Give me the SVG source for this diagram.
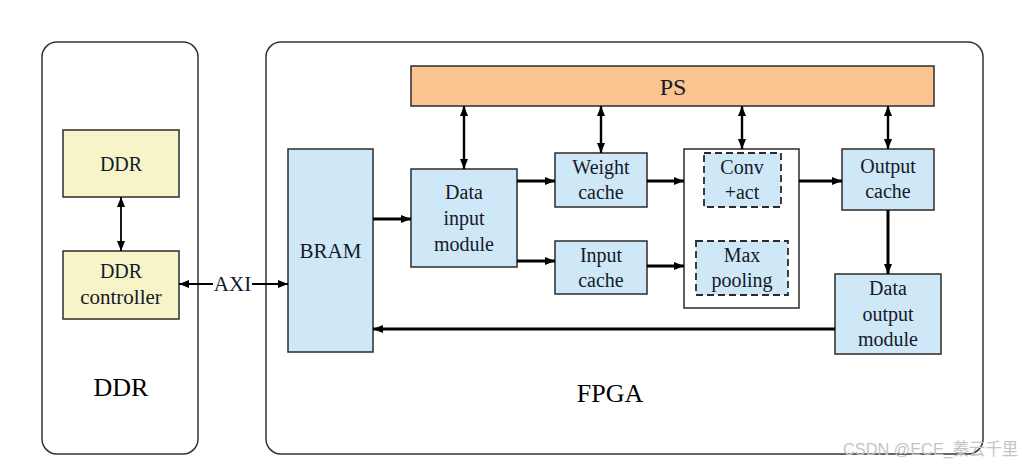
<svg xmlns="http://www.w3.org/2000/svg" width="1022" height="465" viewBox="0 0 1022 465" font-family="'Liberation Serif', 'Times New Roman', 'DejaVu Serif', serif">
<defs>
<style>
.panel{fill:#fff;stroke:#333;stroke-width:1.5}
.blue{fill:#cfe8f8;stroke:#2b2b2b;stroke-width:1.5}
.yellow{fill:#f7f5c8;stroke:#2b2b2b;stroke-width:1.5}
.orange{fill:#f9c48f;stroke:#2b2b2b;stroke-width:1.5}
.white{fill:#fff;stroke:#2b2b2b;stroke-width:1.5}
.dash{fill:#cfe8f8;stroke:#2b2b2b;stroke-width:1.8;stroke-dasharray:7 4}
.lbl{font-family:'Liberation Serif','Times New Roman','DejaVu Serif',serif;fill:#141a28;text-anchor:middle}
.t20{font-size:20px}
.big{font-size:26px;fill:#000}
.thin{stroke:#000;stroke-width:1.8;fill:none}
.mid{stroke:#000;stroke-width:2.4;fill:none}
.thick{stroke:#000;stroke-width:3;fill:none}
.wm{font-family:'Liberation Sans','Noto Sans CJK SC',sans-serif;font-size:17px;fill:#c4c4c4}
</style>
<marker id="ah" viewBox="0 0 10 8" markerUnits="userSpaceOnUse" markerWidth="10" markerHeight="8" refX="10" refY="4" orient="auto-start-reverse">
<path d="M0,0 L10,4 L0,8 z" fill="#000"/>
</marker>
</defs>
<rect width="1022" height="465" fill="#fff"/>

<g id="ddr-panel">
<rect class="panel" x="42" y="42" width="156" height="412" rx="15"/>
<text class="lbl big" x="121" y="396">DDR</text>
</g>
<g id="fpga-panel">
<rect class="panel" x="266" y="42" width="717" height="412" rx="15"/>
<text class="lbl big" x="610" y="402">FPGA</text>
</g>

<g id="ddr">
<rect class="yellow" x="63" y="130" width="116" height="67"/>
<text class="lbl t20" x="121" y="171">DDR</text>
</g>
<g id="ddr-controller">
<rect class="yellow" x="63" y="251" width="116" height="68"/>
<text class="lbl t20" x="121" y="278">DDR</text>
<text class="lbl" x="121" y="304" font-size="21">controller</text>
</g>
<g id="bram">
<rect class="blue" x="288" y="149" width="85" height="203"/>
<text class="lbl" x="330.5" y="258" font-size="21">BRAM</text>
</g>
<g id="ps">
<rect class="orange" x="411" y="66" width="523" height="40"/>
<text class="lbl" x="673" y="95" font-size="24">PS</text>
</g>
<g id="data-input">
<rect class="blue" x="411" y="169" width="106" height="98"/>
<text class="lbl t20" x="464" y="199">Data</text>
<text class="lbl t20" x="464" y="225">input</text>
<text class="lbl t20" x="464" y="251">module</text>
</g>
<g id="weight-cache">
<rect class="blue" x="555" y="153" width="92" height="54"/>
<text class="lbl t20" x="601" y="174">Weight</text>
<text class="lbl t20" x="601" y="199">cache</text>
</g>
<g id="input-cache">
<rect class="blue" x="555" y="241" width="92" height="53"/>
<text class="lbl t20" x="601" y="262">Input</text>
<text class="lbl t20" x="601" y="287">cache</text>
</g>
<g id="compute">
<rect class="white" x="684" y="149" width="115" height="159"/>
</g>
<g id="conv-act">
<rect class="dash" x="704" y="153" width="77" height="54"/>
<text class="lbl t20" x="742" y="174">Conv</text>
<text class="lbl t20" x="742" y="199">+act</text>
</g>
<g id="max-pooling">
<rect class="dash" x="696" y="241" width="92" height="54"/>
<text class="lbl t20" x="742" y="262">Max</text>
<text class="lbl t20" x="742" y="287">pooling</text>
</g>
<g id="output-cache">
<rect class="blue" x="842" y="149" width="92" height="61"/>
<text class="lbl t20" x="888" y="173">Output</text>
<text class="lbl t20" x="888" y="198">cache</text>
</g>
<g id="data-output">
<rect class="blue" x="835" y="274" width="106" height="80"/>
<text class="lbl t20" x="888" y="295">Data</text>
<text class="lbl t20" x="888" y="321">output</text>
<text class="lbl t20" x="888" y="346">module</text>
</g>

<g id="connectors">
<line class="thin" x1="121" y1="197" x2="121" y2="251" marker-start="url(#ah)" marker-end="url(#ah)"/>
<line class="thin" x1="179" y1="284" x2="213" y2="284" marker-start="url(#ah)"/>
<line class="thin" x1="252" y1="284" x2="288" y2="284" marker-end="url(#ah)"/>
<text class="lbl" x="232.5" y="291" font-size="21" fill="#000">AXI</text>
<line class="thick" x1="373" y1="219" x2="411" y2="219" marker-end="url(#ah)"/>
<line class="thick" x1="835" y1="329" x2="373" y2="329" marker-end="url(#ah)"/>
<line class="thick" x1="517" y1="181" x2="555" y2="181" marker-end="url(#ah)"/>
<line class="thick" x1="517" y1="261" x2="555" y2="261" marker-end="url(#ah)"/>
<line class="thick" x1="647" y1="181" x2="684" y2="181" marker-end="url(#ah)"/>
<line class="thick" x1="647" y1="266" x2="684" y2="266" marker-end="url(#ah)"/>
<line class="thick" x1="799" y1="181" x2="842" y2="181" marker-end="url(#ah)"/>
<line class="thick" x1="888" y1="210" x2="888" y2="274" marker-end="url(#ah)"/>
<line class="mid" x1="464" y1="106" x2="464" y2="169" marker-start="url(#ah)" marker-end="url(#ah)"/>
<line class="mid" x1="601" y1="106" x2="601" y2="153" marker-start="url(#ah)" marker-end="url(#ah)"/>
<line class="mid" x1="742" y1="106" x2="742" y2="149" marker-start="url(#ah)" marker-end="url(#ah)"/>
<line class="mid" x1="888" y1="106" x2="888" y2="149" marker-start="url(#ah)" marker-end="url(#ah)"/>
</g>

<text class="wm" x="843" y="455" textLength="175" lengthAdjust="spacingAndGlyphs">CSDN @ECE_蓁云千里</text>
</svg>
